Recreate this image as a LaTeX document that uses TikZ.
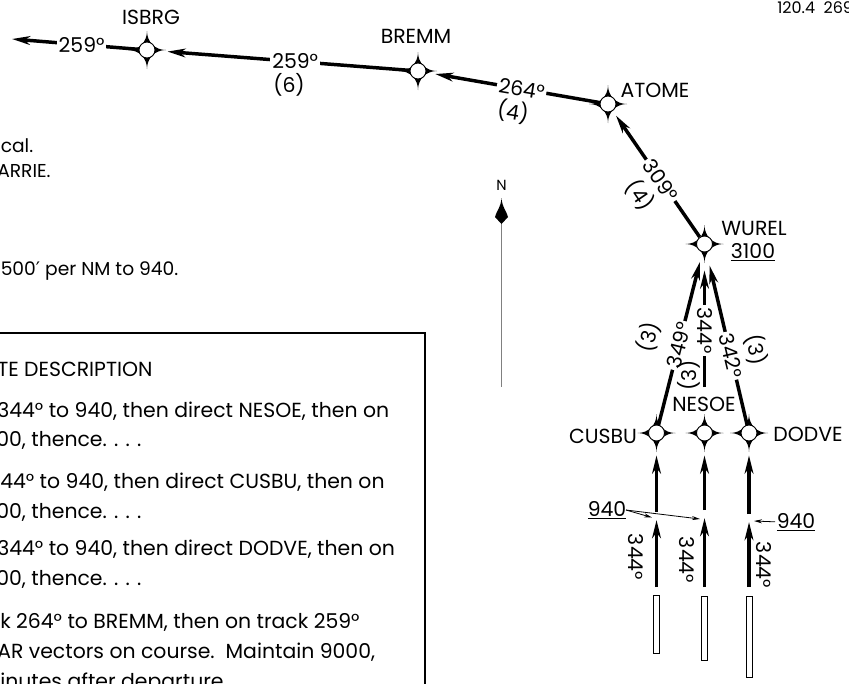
\documentclass[tikz,border=0pt]{standalone}
\usepackage{fontspec}
\setmainfont{Poppins}
\newfontfamily\symfont{DejaVu Sans}
\usetikzlibrary{arrows.meta,calc}
\newcommand\myfix[3]{%
  \begin{scope}[shift={(#2,#3)}]
    \fill (0,-19) .. controls (0,-8) and (8,0) .. (19,0)
          .. controls (8,0) and (0,8) .. (0,19)
          .. controls (0,8) and (-8,0) .. (-19,0)
          .. controls (-8,0) and (0,-8) .. cycle;
    \node[fixc] (#1) at (0,0) {};
  \end{scope}}
\begin{document}
\begin{tikzpicture}[x=0.75pt,y=-0.75pt,
  every node/.style={font=\fontsize{15.3}{18}\selectfont, inner sep=1pt},
  fixc/.style={circle,draw,fill=white,line width=0.7pt,minimum size=12pt,inner sep=0pt},
  route/.style={line width=2.6pt},
  tipA/.style={-{Stealth[length=13.5pt,width=6.5pt,inset=4pt]}},
  lbl/.style={fill=white,inner sep=1.5pt},
  leader/.style={line width=0.6pt,-{Stealth[length=6pt,width=3pt]}},
  rwy/.style={draw,fill=white,line width=0.6pt,minimum width=4.5pt,inner sep=0pt,anchor=north},
  boxtxt/.style={anchor=base west,inner sep=0pt},
  notetxt/.style={anchor=base west,inner sep=0pt,font=\fontsize{14}{16}\selectfont},
  small/.style={font=\fontsize{11}{13}\selectfont},
]
\useasboundingbox (0,0) rectangle (849,683);
\clip (0,0) rectangle (849,683);

% fixes
\myfix{ISBRG}{147}{50}
\myfix{BREMM}{418}{71}
\myfix{ATOME}{608}{104}
\myfix{WUREL}{704.5}{244}
\myfix{CUSBU}{656.5}{433}
\myfix{NESOE}{704.5}{433}
\myfix{DODVE}{749}{433}

% fix labels
\node (lISBRG) at (151,17.5) {ISBRG};
\node (lBREMM) at (416,36) {BREMM};
\node (lATOME) at (655,90) {ATOME};
\node (lWUREL) at (754,228) {WUREL};
\node[anchor=base] (lalt) at (753,258) {\underline{3100}};
\node (lCUSBU) at (603,436) {CUSBU};
\node (lNESOE) at (704,404) {NESOE};
\node (lDODVE) at (808,434) {DODVE};

% route
\coordinate (tipW) at (12,39);
\draw[route,tipA] (ISBRG) -- node[lbl,pos=0.45] (t1) {259°} (tipW);
\draw[route,tipA,shorten >=9pt] (BREMM) -- node[lbl,pos=0.45] (t2) {259°} (ISBRG);
\node (d2) at (289,85) {(6)};
\draw[route,tipA,shorten >=6.75pt] (ATOME) -- node[lbl,pos=0.45,rotate=-9.5] (t3) {264°} (BREMM);
\node[rotate=-9.5] (d3) at (513,112) {(4)};
\draw[route,tipA,shorten >=4.2pt] (WUREL) -- node[lbl,pos=0.45,rotate=-55.6] (t4) {309°} (ATOME);
\node[rotate=-55.6] (d4) at (640,195) {(4)};

\draw[route,tipA,shorten >=7.4pt] (CUSBU) -- node[lbl,pos=0.46,rotate=76] (t5) {349°} (WUREL);
\node[rotate=76] (d5) at (649,337) {(3)};
\coordinate (nesTop) at (704.5,387);
\draw[route,tipA,shorten >=13.5pt] (nesTop) -- node[lbl,pos=0.42,rotate=-90] (t6) {344°} (WUREL);
\node[rotate=90] (d6) at (689,375) {(3)};
\draw[route,tipA,shorten >=10.2pt] (DODVE) -- node[lbl,pos=0.40,rotate=-76.6] (t7) {342°} (WUREL);
\node[rotate=-76.6] (d7) at (756,350) {(3)};

% departure legs
\node[rwy,minimum height=43.5pt] (rwyL) at (656.5,595) {};
\node[rwy,minimum height=48pt] (rwyM) at (704.5,596) {};
\node[rwy,minimum height=60.75pt] (rwyR) at (749,596) {};
\coordinate (lowL) at (656.5,587);
\coordinate (midL) at (656.5,520);
\coordinate (upL) at (656.5,512);
\coordinate (lowM) at (704.5,587);
\coordinate (midM) at (704.5,518);
\coordinate (upM) at (704.5,510);
\coordinate (lowR) at (749,587);
\coordinate (midR) at (749,522);
\coordinate (upR) at (749,514);
\draw[route,tipA] (lowL) -- (midL);
\draw[route,tipA] (lowM) -- (midM);
\draw[route,tipA] (lowR) -- (midR);
\draw[route,tipA,shorten >=10.5pt] (upL) -- (CUSBU);
\draw[route,tipA,shorten >=10.5pt] (upM) -- (NESOE);
\draw[route,tipA,shorten >=10.5pt] (upR) -- (DODVE);
\node[rotate=-90] (h1) at (636,557) {344°};
\node[rotate=-90] (h2) at (687,560) {344°};
\node[rotate=-90] (h3) at (764,565) {344°};

% 940 notes
\node[anchor=base] (a940L) at (607,516) {\underline{940}};
\node[anchor=base] (a940R) at (796,528) {\underline{940}};
\coordinate (s940L) at (626,510);
\coordinate (g940L) at (652,517.5);
\coordinate (g940M) at (700,519);
\coordinate (g940R) at (754,521);
\draw[leader] (s940L) -- (g940L);
\draw[leader] (s940L) -- (g940M);
\draw[leader] (a940R.west) -- (g940R);

% north arrow
\node[small] (N) at (501.5,185) {N};
\draw[gray,line width=1pt] (501.5,223) -- (501.5,387);
\fill (501.5,198) .. controls (502,207) and (507,212) .. (508,217) -- (501.5,224) -- (495,217) .. controls (496,212) and (501,207) .. cycle;

% top right
\node[anchor=base west,inner sep=0pt,font=\fontsize{12}{14}\selectfont] (freq) at (777,13) {120.4\ \ 269};

% upper left notes
\node[notetxt] (n1) at (0.5,152) {cal.};
\node[notetxt] (n2) at (-3,177) {ARRIE.};
\node[notetxt] (n3) at (0.5,275) {500{\symfont ′} per NM to 940.};

% route description box
\draw[line width=1.5pt] (-10,333) rectangle (425,700);
\node[boxtxt] (b1) at (-3,376) {TE DESCRIPTION};
\node[boxtxt] (b2) at (-3,417) {344° to 940, then direct NESOE, then on};
\node[boxtxt] (b3) at (-4,446) {00, thence. . . .};
\node[boxtxt] (b4) at (0,488) {44° to 940, then direct CUSBU, then on};
\node[boxtxt] (b5) at (-4,518) {00, thence. . . .};
\node[boxtxt] (b6) at (-3,555) {344° to 940, then direct DODVE, then on};
\node[boxtxt] (b7) at (-4,585) {00, thence. . . .};
\node[boxtxt] (b8) at (0,628) {k 264° to BREMM, then on track 259°};
\node[boxtxt] (b9) at (-3,658) {AR vectors on course.\ \ Maintain 9000,};
\node[boxtxt] (b10) at (0,688) {inutes after departure.};
\end{tikzpicture}
\end{document}
